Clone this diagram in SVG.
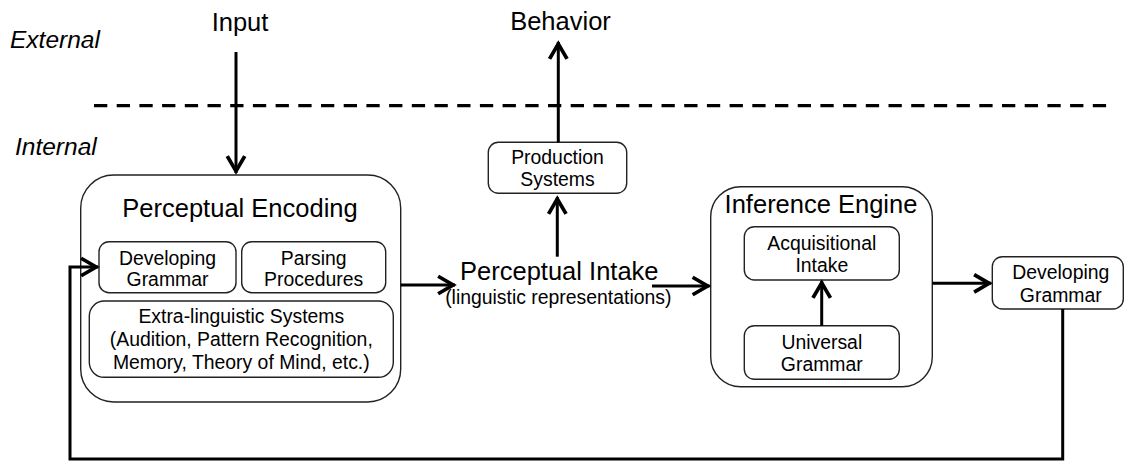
<svg xmlns="http://www.w3.org/2000/svg" width="1125" height="462" viewBox="0 0 1125 462">
<style>
text{font-family:"Liberation Sans",Arial,sans-serif;fill:#000}
.t{font-size:25.5px;text-anchor:middle}
.s{font-size:19.4px;text-anchor:middle}
.lab{font-size:24.5px;font-style:italic}
.box{fill:#fff;stroke:#222;stroke-width:1.4}
.c{fill:none;stroke:#000;stroke-width:3}
</style>
<defs>
<marker id="arr" markerUnits="userSpaceOnUse" markerWidth="20" markerHeight="20" refX="1.5" refY="0" orient="auto" overflow="visible" viewBox="-14 -8 16 16">
<path d="M-12,-7 L0,0 L-12,7" fill="none" stroke="#000" stroke-width="3"/>
</marker>
</defs>
<rect width="1125" height="462" fill="#fff"/>
<g id="labels">
<text class="lab" x="10" y="48">External</text>
<text class="lab" x="15" y="155">Internal</text>
<text class="t" x="240" y="31">Input</text>
<text class="t" x="560.5" y="30">Behavior</text>
</g>
<line x1="94" y1="105.7" x2="1110" y2="105.7" stroke="#000" stroke-width="3.3" stroke-dasharray="13.3 9.4"/>
<g id="perceptual-encoding">
<rect class="box" x="80.7" y="175" width="320" height="227" rx="33" ry="33"/>
<text class="t" x="240" y="217">Perceptual Encoding</text>
</g>
<g id="developing-grammar-inner">
<rect class="box" x="99" y="241.7" width="137" height="51" rx="10"/>
<text class="s" x="167.5" y="265">Developing</text>
<text class="s" x="167.5" y="286">Grammar</text>
</g>
<g id="parsing-procedures">
<rect class="box" x="241.7" y="241.7" width="144" height="51" rx="10"/>
<text class="s" x="313.7" y="265">Parsing</text>
<text class="s" x="313.7" y="286">Procedures</text>
</g>
<g id="extra-linguistic">
<rect class="box" x="89.3" y="301" width="304" height="76.3" rx="15"/>
<text class="s" x="241.3" y="323">Extra-linguistic Systems</text>
<text class="s" x="241.3" y="346">(Audition, Pattern Recognition,</text>
<text class="s" x="241.3" y="369">Memory, Theory of Mind, etc.)</text>
</g>
<g id="production-systems">
<rect class="box" x="488.3" y="142.3" width="138.4" height="51" rx="10"/>
<text class="s" x="557.5" y="163.5">Production</text>
<text class="s" x="557.5" y="186">Systems</text>
</g>
<g id="perceptual-intake">
<text class="t" x="559.3" y="280">Perceptual Intake</text>
<text class="s" x="558.3" y="304">(linguistic representations)</text>
</g>
<g id="inference-engine">
<rect class="box" x="710.7" y="186.7" width="221.6" height="200" rx="30"/>
<text class="t" x="821" y="213">Inference Engine</text>
</g>
<g id="acquisitional-intake">
<rect class="box" x="744.3" y="226.7" width="155" height="53.3" rx="10"/>
<text class="s" x="821.8" y="250">Acquisitional</text>
<text class="s" x="821.8" y="272">Intake</text>
</g>
<g id="universal-grammar">
<rect class="box" x="744.3" y="325.7" width="155" height="53.6" rx="10"/>
<text class="s" x="821.8" y="348.5">Universal</text>
<text class="s" x="821.8" y="370.5">Grammar</text>
</g>
<g id="developing-grammar-out">
<rect class="box" x="992.3" y="256.7" width="131" height="52.3" rx="10"/>
<text class="s" x="1060.8" y="278.5">Developing</text>
<text class="s" x="1060.8" y="301.5">Grammar</text>
</g>
<g id="connectors">
<line class="c" x1="236" y1="52" x2="236" y2="173" marker-end="url(#arr)"/>
<line class="c" x1="558.3" y1="142.3" x2="558.3" y2="42" marker-end="url(#arr)"/>
<line class="c" x1="557.3" y1="256.7" x2="557.3" y2="197" marker-end="url(#arr)"/>
<line class="c" x1="400.7" y1="285" x2="455" y2="285" marker-end="url(#arr)"/>
<line class="c" x1="652" y1="286" x2="709.5" y2="286" marker-end="url(#arr)"/>
<line class="c" x1="821.7" y1="325.7" x2="821.7" y2="281" marker-end="url(#arr)"/>
<line class="c" x1="932.3" y1="283.3" x2="991" y2="283.3" marker-end="url(#arr)"/>
<polyline class="c" points="1062.7,309 1062.7,459 70,459 70,267 98,267" marker-end="url(#arr)"/>
</g>
</svg>
